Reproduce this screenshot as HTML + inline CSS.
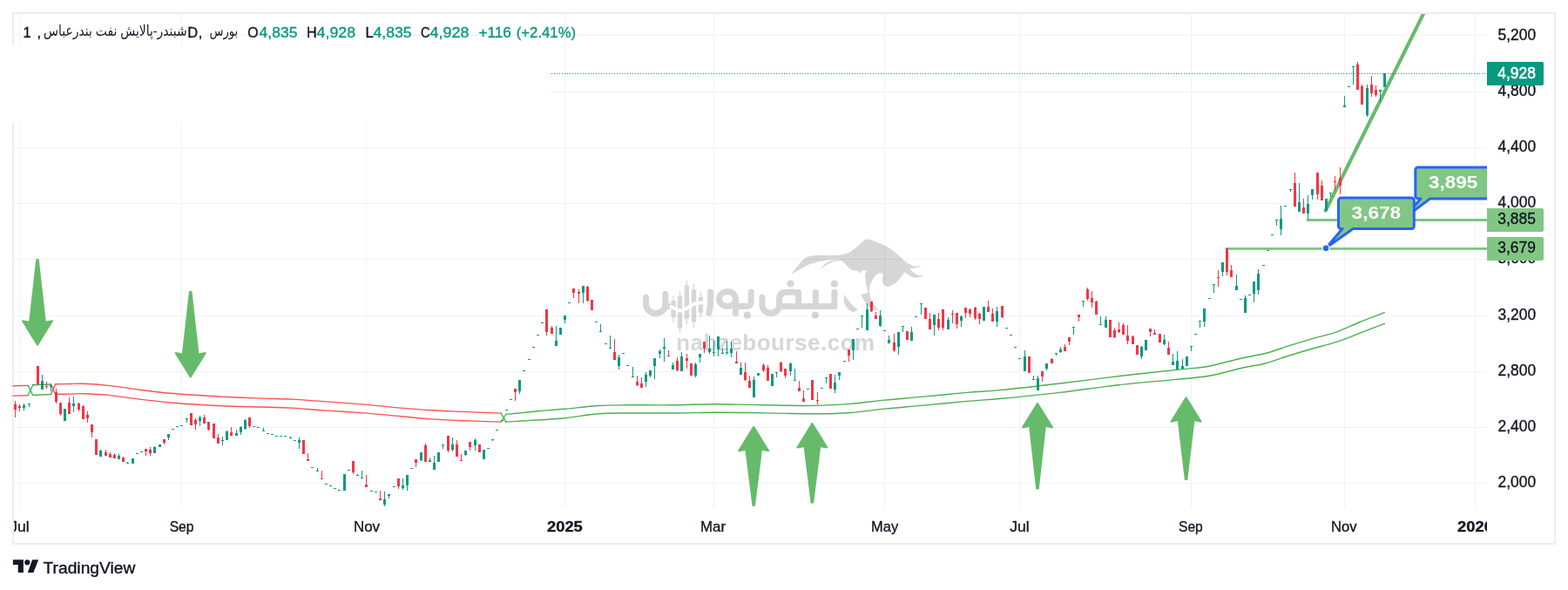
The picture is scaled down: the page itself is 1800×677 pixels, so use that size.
<!DOCTYPE html>
<html><head><meta charset="utf-8"><title>chart</title><style>html,body{margin:0;padding:0;background:#fff;overflow:hidden}</style></head><body>
<svg width="1800" height="677" viewBox="0 0 1800 677" style="display:block;will-change:transform">
<rect width="1800" height="677" fill="#fff"/>
<g fill="#F1F2F3" shape-rendering="crispEdges"><rect x="22" y="16" width="1" height="566"/><rect x="208" y="16" width="1" height="566"/><rect x="420" y="16" width="1" height="566"/><rect x="648" y="16" width="1" height="566"/><rect x="819" y="16" width="1" height="566"/><rect x="1015" y="16" width="1" height="566"/><rect x="1170" y="16" width="1" height="566"/><rect x="1367" y="16" width="1" height="566"/><rect x="1543" y="16" width="1" height="566"/><rect x="1693" y="16" width="1" height="566"/><rect x="16" y="40" width="1691" height="1"/><rect x="16" y="105" width="1691" height="1"/><rect x="16" y="169" width="1691" height="1"/><rect x="16" y="233" width="1691" height="1"/><rect x="16" y="297" width="1691" height="1"/><rect x="16" y="362" width="1691" height="1"/><rect x="16" y="426" width="1691" height="1"/><rect x="16" y="490" width="1691" height="1"/><rect x="16" y="554" width="1691" height="1"/></g>
<g fill="#EDEEF4" shape-rendering="crispEdges"><rect x="14" y="14" width="1772" height="2"/><rect x="14" y="623" width="1772" height="2"/><rect x="14" y="14" width="2" height="611"/><rect x="1784" y="14" width="2" height="611"/></g>
<rect x="0" y="52" width="631" height="88" fill="#fff"/>
<g opacity="0.155"><g fill="none" stroke="#000" stroke-width="7.0" stroke-linecap="round" stroke-linejoin="round"><path d="M741.5,341.2V349A11.2,10.5 0 0 0 763.9,349V337.4"/><path d="M763.9,351.5H768"/><path d="M815.6,335.2C815.9,345 815.4,353 813.8,359.3"/><path d="M862.2,335V347A4.6,4.6 0 0 1 857.6,351.6H844.5"/><path d="M844.5,345V359.4"/><path d="M874.9,341.3V350A9.8,9.4 0 0 0 894.5,350V344Q894.5,335.3 903,335.3H916.5V351.4"/><path d="M894.5,351.4H957.9V335.3"/><path d="M936.4,335.3V351.4"/><ellipse cx="835.05" cy="343" rx="9.45" ry="8.5"/></g><circle cx="857.9" cy="361.7" r="4.1"/><circle cx="935.9" cy="361.7" r="4.1"/><circle cx="907.4" cy="325.6" r="4.1"/><circle cx="957.9" cy="325.6" r="4.1"/><rect x="772.4" y="339" width="1.4" height="30.7"/><rect x="770.4" y="344.9" width="5.4" height="18.9"/><rect x="779.8" y="334" width="1.4" height="48.0"/><rect x="777.8" y="340" width="5.4" height="36.7"/><rect x="787.6" y="321.7" width="1.4" height="50.3"/><rect x="785.6" y="327.6" width="5.4" height="38.3"/><rect x="795.8" y="325.9" width="1.4" height="50.1"/><rect x="793.8" y="332.3" width="5.4" height="37.4"/><rect x="803.7" y="335.2" width="1.4" height="29.5"/><rect x="801.7" y="341.1" width="5.4" height="17.7"/><path d="M909.2,314.2C908.8,314.0 912.8,308.8 914.9,306.0C917.1,303.3 919.2,300.2 921.7,298.2C924.3,296.1 926.7,294.7 929.9,293.8C933.1,292.9 936.6,293.0 940.8,292.9C944.9,292.7 950.2,293.2 954.3,293.1C958.5,293.1 961.5,293.1 965.2,292.5C968.9,291.8 972.4,291.1 976.1,289.1C979.8,287.0 983.8,282.7 987.0,280.2C990.1,277.7 993.1,274.7 994.4,274.4C995.7,274.1 999.7,275.6 1003.3,276.8C1006.8,278.1 1011.3,279.4 1015.5,281.6C1019.6,283.8 1024.3,287.1 1027.7,289.7C1031.2,292.4 1033.1,294.9 1035.9,297.2C1038.6,299.5 1041.7,301.7 1044.0,303.1C1046.3,304.4 1047.1,304.8 1049.5,305.2C1051.8,305.6 1057.5,305.2 1057.6,305.4C1057.7,305.5 1052.9,307.1 1050.8,307.5C1048.7,308.0 1045.3,307.8 1045.1,308.2C1044.9,308.6 1046.7,310.9 1048.1,312.2C1049.5,313.4 1051.3,314.7 1053.5,315.4C1055.7,316.1 1061.1,316.0 1061.0,316.2C1060.9,316.5 1054.8,318.4 1052.2,318.5C1049.5,318.7 1047.6,317.9 1045.4,316.9C1043.1,315.9 1040.5,313.0 1038.9,312.8C1037.2,312.7 1037.3,314.6 1035.9,316.2C1034.4,317.9 1032.1,320.7 1030.4,322.3C1028.8,324.0 1028.2,324.6 1026.4,325.7C1024.5,326.9 1020.5,328.8 1019.6,328.9C1018.6,329.0 1015.9,328.2 1014.8,327.1C1013.7,326.0 1013.3,324.5 1013.0,322.3C1012.8,320.2 1014.2,316.0 1013.5,314.5C1012.7,313.0 1010.4,312.9 1008.7,313.5C1007.0,314.2 1004.8,316.3 1003.3,318.3C1001.8,320.2 1000.7,322.8 999.9,325.1C999.0,327.4 998.3,329.5 998.1,331.9C997.9,334.2 998.0,336.3 998.5,338.7C999.0,341.0 1000.1,343.1 1001.2,345.4C1002.4,347.8 1004.0,350.5 1005.3,352.2C1006.6,354.0 1009.1,355.4 1008.7,355.6C1008.3,355.9 1001.6,355.4 1000.5,355.0C999.5,354.5 996.8,351.7 995.1,349.5C993.4,347.3 991.5,343.9 990.4,342.0C989.2,340.2 988.0,339.1 988.3,338.7C988.6,338.2 992.4,337.2 993.8,336.6C995.1,336.0 996.2,336.3 996.5,335.3C996.7,334.2 995.6,332.2 995.1,330.5C994.6,328.8 994.0,326.7 993.8,325.1C993.5,323.4 993.9,322.6 993.8,321.0C993.6,319.4 992.7,317.2 992.8,315.6C992.9,313.9 994.5,312.4 994.4,311.5C994.4,310.5 992.8,310.0 992.4,310.0C992.0,310.0 989.9,310.5 989.0,311.1C988.1,311.6 987.9,313.4 987.0,313.2C986.0,313.1 984.7,310.8 983.6,310.4C982.4,310.0 981.4,311.1 980.2,310.8C978.9,310.5 977.5,309.8 976.1,308.8C974.7,307.7 973.4,306.1 972.0,304.7C970.6,303.3 969.1,301.6 967.9,300.6C966.8,299.6 966.6,299.2 965.2,299.0C963.8,298.8 961.6,299.1 959.8,299.5C957.9,299.9 956.4,300.4 954.3,301.3C952.3,302.2 949.6,303.4 947.6,304.7C945.5,306.0 942.1,308.9 942.1,308.8C942.1,308.6 945.5,304.3 947.6,302.6C949.6,301.0 952.0,299.9 954.3,299.0C956.7,298.1 959.3,297.6 961.1,297.2C963.0,296.8 965.3,296.5 965.2,296.5C965.1,296.5 962.1,296.9 959.8,297.2C957.5,297.5 954.9,297.7 951.6,298.2C948.4,298.6 944.5,299.1 940.8,299.9C937.1,300.8 933.4,301.7 929.9,303.1C926.4,304.4 923.9,306.2 920.4,308.1C916.9,310.0 909.7,314.4 909.2,314.2Z"/><path d="M970.9,335.6Q965.6,345.5 972.7,353.6T984.5,355.1Q977.1,349.9 972.7,343.3Q969.0,338.8 970.9,335.6Z"/><text x="776.2" y="402.1" font-family="'Liberation Sans', sans-serif" font-size="26" font-weight="bold" textLength="228" lengthAdjust="spacing">nabzebourse.com</text></g><path d="M768.8,351.6C773,352 776,356.6 781,356.3C788,356 792,350 798,348.5C803,347.2 808,347 811.8,348.6" fill="none" stroke="#fff" stroke-width="4"/>
<g fill="none" stroke-width="1.4" stroke-linejoin="round" stroke-linecap="round"><polyline points="15.0,442.8 32.1,442.4" stroke="#FF5252"/><polyline points="15.0,454.1 32.1,453.7" stroke="#FF5252"/><polyline points="32.1,442.4 37.8,453.5" stroke="#4CAF50"/><polyline points="32.1,453.7 37.8,441.8" stroke="#4CAF50"/><polyline points="37.8,441.8 58.5,441.0" stroke="#4CAF50"/><polyline points="37.8,453.5 58.5,452.5" stroke="#4CAF50"/><polyline points="58.5,441.0 63.6,452.3" stroke="#FF5252"/><polyline points="58.5,452.5 63.6,440.8" stroke="#FF5252"/><path d="M63.6,440.8C66.3,440.8 74.6,440.6 80.0,440.5C85.4,440.4 88.6,440.0 96.0,440.3C103.4,440.6 113.7,441.2 124.4,442.4C135.1,443.5 148.2,445.7 160.0,447.2C171.8,448.7 183.7,450.2 195.5,451.3C207.3,452.4 219.1,453.1 231.0,453.8C242.9,454.6 255.2,455.2 266.7,455.8C278.2,456.4 288.5,456.7 300.0,457.1C311.5,457.5 323.7,457.5 335.5,458.1C347.3,458.7 356.8,459.6 371.0,460.6C385.2,461.7 406.2,463.1 421.0,464.4C435.8,465.6 447.6,467.0 460.0,468.1C472.4,469.2 483.7,470.1 495.5,470.8C507.3,471.5 517.7,471.8 531.0,472.4C544.3,472.9 567.8,473.8 575.2,474.1" stroke="#FF5252"/><path d="M63.6,452.3C66.3,452.3 74.6,452.2 80.0,452.1C85.4,452.0 88.6,451.5 96.0,451.7C103.4,451.9 113.7,452.3 124.4,453.4C135.1,454.5 148.2,456.7 160.0,458.1C171.8,459.5 183.7,460.9 195.5,462.0C207.3,463.1 219.1,463.8 231.0,464.5C242.9,465.2 255.2,465.8 266.7,466.2C278.2,466.6 288.5,466.7 300.0,467.0C311.5,467.3 323.7,467.5 335.5,468.1C347.3,468.8 356.8,469.9 371.0,470.9C385.2,471.9 406.2,473.0 421.0,474.1C435.8,475.2 447.6,476.6 460.0,477.7C472.4,478.8 483.7,480.1 495.5,480.9C507.3,481.7 517.7,482.2 531.0,482.7C544.3,483.2 567.8,483.9 575.2,484.1" stroke="#FF5252"/><polyline points="575.2,474.1 580.9,484.1" stroke="#4CAF50"/><polyline points="575.2,484.1 580.9,475.4" stroke="#4CAF50"/><path d="M580.9,475.4C584.1,475.1 593.5,474.2 600.0,473.6C606.5,473.0 611.9,472.2 620.0,471.5C628.1,470.8 637.4,470.3 648.5,469.3C659.6,468.3 674.9,466.2 686.9,465.5C698.9,464.8 706.4,464.9 720.3,464.8C734.2,464.7 753.7,465.0 770.4,464.8C787.1,464.6 805.6,463.9 820.5,463.8C835.4,463.7 846.8,464.2 860.0,464.4C873.2,464.6 886.9,465.0 900.0,465.2C913.1,465.4 925.7,465.7 938.5,465.4C951.3,465.1 964.0,464.4 976.9,463.4C989.8,462.3 1001.9,460.5 1015.8,459.1C1029.7,457.7 1044.5,456.6 1060.3,455.1C1076.1,453.7 1095.5,451.7 1110.4,450.4C1125.4,449.1 1132.3,449.1 1150.0,447.4C1167.7,445.7 1194.5,442.6 1216.8,440.0C1239.1,437.4 1261.3,434.3 1283.6,431.7C1305.8,429.1 1333.6,426.2 1350.3,424.4C1367.0,422.6 1375.4,422.2 1383.7,421.0C1392.0,419.8 1392.8,419.0 1400.0,417.3C1407.2,415.6 1417.8,412.7 1426.7,410.7C1435.6,408.7 1444.4,407.6 1453.3,405.3C1462.2,403.0 1471.1,399.5 1480.0,396.7C1488.9,393.9 1497.8,391.3 1506.7,388.7C1515.6,386.1 1524.4,384.4 1533.3,381.3C1542.2,378.2 1550.7,373.8 1560.0,370.0C1569.3,366.2 1584.4,360.6 1589.3,358.7" stroke="#4CAF50"/><path d="M580.9,484.1C584.1,483.9 593.5,483.4 600.0,483.0C606.5,482.6 611.9,482.3 620.0,481.8C628.1,481.3 637.4,481.0 648.5,479.8C659.6,478.6 674.9,475.8 686.9,474.8C698.9,473.8 706.4,474.1 720.3,474.0C734.2,473.9 753.7,474.1 770.4,474.0C787.1,473.9 805.6,473.3 820.5,473.2C835.4,473.1 846.8,473.3 860.0,473.5C873.2,473.7 886.9,474.2 900.0,474.4C913.1,474.6 925.7,474.9 938.5,474.8C951.3,474.7 964.0,474.4 976.9,473.5C989.8,472.6 1001.9,470.5 1015.8,469.1C1029.7,467.7 1044.5,466.6 1060.3,465.1C1076.1,463.7 1095.5,461.7 1110.4,460.4C1125.4,459.1 1132.3,459.0 1150.0,457.3C1167.7,455.6 1194.5,453.0 1216.8,450.4C1239.1,447.8 1261.3,444.2 1283.6,441.7C1305.8,439.2 1333.6,437.0 1350.3,435.4C1367.0,433.8 1375.4,433.1 1383.7,432.0C1392.0,430.9 1392.8,430.4 1400.0,428.7C1407.2,427.0 1417.8,424.0 1426.7,422.0C1435.6,420.0 1444.4,419.0 1453.3,416.7C1462.2,414.4 1471.1,410.8 1480.0,408.0C1488.9,405.2 1497.8,402.6 1506.7,400.0C1515.6,397.4 1524.4,395.6 1533.3,392.7C1542.2,389.8 1550.7,386.3 1560.0,382.7C1569.3,379.1 1584.4,373.2 1589.3,371.3" stroke="#4CAF50"/></g>
<clipPath id="pclip"><rect x="16" y="16" width="1691" height="566"/></clipPath><g clip-path="url(#pclip)"><g fill="#66BB6A" stroke="#66BB6A" stroke-width="2" stroke-linejoin="round"><polygon points="43.0,395.6 60.0,368.2 51.9,369.8 43.8,298.0 42.2,298.0 34.1,369.8 26.0,368.2"/><polygon points="218.7,432.5 235.7,405.1 227.6,406.7 219.5,334.9 217.9,334.9 209.8,406.7 201.7,405.1"/><polygon points="865.2,489.9 882.2,517.3 874.1,515.7 866.0,579.9 864.4,579.9 856.3,515.7 848.2,517.3"/><polygon points="932.4,486.1 949.4,513.5 941.3,511.9 933.2,576.6 931.6,576.6 923.5,511.9 915.4,513.5"/><polygon points="1191.0,463.0 1208.0,490.4 1199.9,488.8 1191.8,560.6 1190.2,560.6 1182.1,488.8 1174.0,490.4"/><polygon points="1361.6,456.3 1378.6,483.7 1370.5,482.1 1362.4,550.0 1360.8,550.0 1352.7,482.1 1344.6,483.7"/></g><g stroke="#7CC580" stroke-width="2.8"><line x1="1406.7" y1="285.4" x2="1707" y2="285.4"/><line x1="1499.9" y1="252.5" x2="1707" y2="252.5"/></g><line x1="1521.7" y1="241.7" x2="1636.9" y2="10" stroke="#66BB6A" stroke-width="4.1" stroke-linecap="round"/></g>
<g shape-rendering="crispEdges"><g fill="#089981"><rect x="27" y="463" width="1" height="8"/><rect x="26" y="465" width="3" height="3"/><rect x="33" y="463" width="1" height="4"/><rect x="32" y="463" width="3" height="1"/><rect x="37" y="441" width="3" height="1"/><rect x="48" y="430" width="1" height="17"/><rect x="47" y="437" width="3" height="10"/><rect x="58" y="441" width="1" height="8"/><rect x="57" y="442" width="3" height="2"/><rect x="73" y="469" width="3" height="14"/><rect x="84" y="455" width="1" height="18"/><rect x="83" y="463" width="3" height="3"/><rect x="115" y="516" width="1" height="8"/><rect x="114" y="517" width="3" height="7"/><rect x="136" y="521" width="1" height="6"/><rect x="135" y="523" width="3" height="4"/><rect x="146" y="530" width="1" height="2"/><rect x="145" y="531" width="3" height="1"/><rect x="151" y="526" width="3" height="6"/><rect x="156" y="520" width="3" height="1"/><rect x="161" y="518" width="3" height="1"/><rect x="177" y="512" width="1" height="8"/><rect x="176" y="513" width="3" height="7"/><rect x="182" y="510" width="3" height="3"/><rect x="193" y="498" width="1" height="7"/><rect x="192" y="498" width="3" height="4"/><rect x="197" y="492" width="3" height="1"/><rect x="202" y="489" width="3" height="1"/><rect x="207" y="488" width="3" height="1"/><rect x="214" y="480" width="1" height="5"/><rect x="213" y="480" width="3" height="1"/><rect x="229" y="477" width="1" height="12"/><rect x="228" y="479" width="3" height="4"/><rect x="255" y="501" width="1" height="10"/><rect x="254" y="505" width="3" height="1"/><rect x="260" y="494" width="1" height="11"/><rect x="259" y="495" width="3" height="10"/><rect x="271" y="493" width="1" height="7"/><rect x="270" y="497" width="3" height="3"/><rect x="276" y="489" width="1" height="10"/><rect x="275" y="490" width="3" height="6"/><rect x="281" y="481" width="1" height="12"/><rect x="280" y="482" width="3" height="10"/><rect x="290" y="489" width="3" height="1"/><rect x="295" y="490" width="3" height="1"/><rect x="302" y="491" width="1" height="4"/><rect x="301" y="494" width="3" height="1"/><rect x="306" y="497" width="3" height="1"/><rect x="311" y="498" width="3" height="1"/><rect x="316" y="500" width="3" height="1"/><rect x="321" y="500" width="3" height="1"/><rect x="326" y="500" width="3" height="1"/><rect x="333" y="501" width="1" height="2"/><rect x="332" y="502" width="3" height="1"/><rect x="337" y="505" width="3" height="1"/><rect x="343" y="502" width="1" height="13"/><rect x="342" y="505" width="3" height="3"/><rect x="357" y="536" width="3" height="1"/><rect x="364" y="537" width="1" height="4"/><rect x="363" y="540" width="3" height="1"/><rect x="373" y="555" width="3" height="1"/><rect x="378" y="557" width="3" height="1"/><rect x="383" y="560" width="3" height="1"/><rect x="388" y="562" width="3" height="1"/><rect x="394" y="544" width="3" height="19"/><rect x="399" y="539" width="3" height="1"/><rect x="410" y="544" width="1" height="2"/><rect x="409" y="545" width="3" height="1"/><rect x="415" y="540" width="1" height="9"/><rect x="414" y="548" width="3" height="1"/><rect x="425" y="563" width="3" height="1"/><rect x="430" y="564" width="3" height="1"/><rect x="441" y="564" width="1" height="17"/><rect x="440" y="573" width="3" height="6"/><rect x="446" y="567" width="1" height="5"/><rect x="445" y="567" width="3" height="2"/><rect x="451" y="558" width="3" height="1"/><rect x="462" y="549" width="1" height="13"/><rect x="461" y="557" width="3" height="3"/><rect x="467" y="545" width="1" height="18"/><rect x="466" y="545" width="3" height="12"/><rect x="471" y="537" width="3" height="1"/><rect x="483" y="519" width="1" height="10"/><rect x="482" y="519" width="3" height="9"/><rect x="493" y="525" width="1" height="5"/><rect x="492" y="528" width="3" height="2"/><rect x="498" y="523" width="1" height="16"/><rect x="497" y="531" width="3" height="8"/><rect x="502" y="519" width="3" height="11"/><rect x="508" y="510" width="1" height="5"/><rect x="507" y="510" width="3" height="1"/><rect x="519" y="502" width="1" height="16"/><rect x="518" y="510" width="3" height="6"/><rect x="534" y="517" width="1" height="6"/><rect x="533" y="517" width="3" height="5"/><rect x="545" y="503" width="1" height="14"/><rect x="544" y="505" width="3" height="6"/><rect x="554" y="516" width="3" height="11"/><rect x="559" y="514" width="3" height="1"/><rect x="565" y="504" width="1" height="2"/><rect x="564" y="504" width="3" height="1"/><rect x="569" y="493" width="3" height="1"/><rect x="575" y="482" width="3" height="1"/><rect x="580" y="470" width="3" height="1"/><rect x="585" y="458" width="3" height="1"/><rect x="596" y="436" width="1" height="16"/><rect x="595" y="436" width="3" height="13"/><rect x="600" y="425" width="3" height="1"/><rect x="606" y="412" width="3" height="1"/><rect x="611" y="398" width="3" height="1"/><rect x="616" y="384" width="3" height="1"/><rect x="621" y="370" width="3" height="1"/><rect x="638" y="374" width="1" height="23"/><rect x="637" y="391" width="3" height="6"/><rect x="642" y="376" width="3" height="8"/><rect x="648" y="362" width="1" height="9"/><rect x="647" y="362" width="3" height="5"/><rect x="652" y="347" width="3" height="1"/><rect x="669" y="328" width="1" height="20"/><rect x="668" y="328" width="3" height="8"/><rect x="683" y="369" width="3" height="1"/><rect x="689" y="372" width="1" height="9"/><rect x="688" y="380" width="3" height="1"/><rect x="694" y="394" width="3" height="1"/><rect x="700" y="385" width="1" height="15"/><rect x="699" y="399" width="3" height="1"/><rect x="710" y="407" width="1" height="17"/><rect x="709" y="410" width="3" height="10"/><rect x="714" y="405" width="3" height="1"/><rect x="719" y="419" width="3" height="1"/><rect x="726" y="421" width="1" height="12"/><rect x="725" y="432" width="3" height="1"/><rect x="741" y="427" width="1" height="17"/><rect x="740" y="430" width="3" height="8"/><rect x="746" y="425" width="1" height="8"/><rect x="745" y="425" width="3" height="6"/><rect x="751" y="411" width="1" height="24"/><rect x="750" y="411" width="3" height="9"/><rect x="757" y="401" width="1" height="10"/><rect x="756" y="403" width="3" height="3"/><rect x="762" y="388" width="1" height="27"/><rect x="761" y="398" width="3" height="2"/><rect x="772" y="416" width="1" height="8"/><rect x="771" y="419" width="3" height="5"/><rect x="782" y="404" width="1" height="22"/><rect x="781" y="409" width="3" height="17"/><rect x="798" y="416" width="1" height="17"/><rect x="797" y="418" width="3" height="13"/><rect x="803" y="406" width="1" height="10"/><rect x="802" y="406" width="3" height="4"/><rect x="814" y="385" width="1" height="21"/><rect x="813" y="400" width="3" height="4"/><rect x="819" y="391" width="1" height="18"/><rect x="818" y="404" width="3" height="1"/><rect x="824" y="386" width="1" height="23"/><rect x="823" y="386" width="3" height="15"/><rect x="829" y="400" width="1" height="6"/><rect x="828" y="405" width="3" height="1"/><rect x="834" y="391" width="1" height="16"/><rect x="833" y="404" width="3" height="1"/><rect x="839" y="392" width="1" height="18"/><rect x="838" y="400" width="3" height="5"/><rect x="850" y="416" width="1" height="14"/><rect x="849" y="422" width="3" height="8"/><rect x="865" y="432" width="1" height="24"/><rect x="864" y="436" width="3" height="20"/><rect x="869" y="428" width="3" height="3"/><rect x="885" y="429" width="3" height="14"/><rect x="891" y="427" width="1" height="6"/><rect x="890" y="427" width="3" height="1"/><rect x="907" y="416" width="1" height="15"/><rect x="906" y="417" width="3" height="9"/><rect x="912" y="423" width="1" height="14"/><rect x="911" y="436" width="3" height="1"/><rect x="926" y="446" width="3" height="1"/><rect x="942" y="445" width="3" height="1"/><rect x="948" y="433" width="1" height="7"/><rect x="947" y="433" width="3" height="1"/><rect x="958" y="430" width="1" height="21"/><rect x="957" y="439" width="3" height="8"/><rect x="963" y="427" width="1" height="9"/><rect x="962" y="427" width="3" height="4"/><rect x="968" y="414" width="3" height="1"/><rect x="979" y="389" width="1" height="24"/><rect x="978" y="389" width="3" height="13"/><rect x="983" y="377" width="3" height="1"/><rect x="989" y="362" width="1" height="14"/><rect x="988" y="362" width="3" height="1"/><rect x="995" y="348" width="1" height="31"/><rect x="994" y="355" width="3" height="24"/><rect x="1010" y="356" width="1" height="19"/><rect x="1009" y="362" width="3" height="12"/><rect x="1014" y="379" width="3" height="1"/><rect x="1020" y="385" width="1" height="9"/><rect x="1019" y="390" width="3" height="4"/><rect x="1031" y="381" width="1" height="26"/><rect x="1030" y="381" width="3" height="17"/><rect x="1036" y="374" width="1" height="7"/><rect x="1035" y="374" width="3" height="1"/><rect x="1046" y="375" width="1" height="16"/><rect x="1045" y="381" width="3" height="10"/><rect x="1050" y="363" width="3" height="1"/><rect x="1057" y="348" width="1" height="13"/><rect x="1056" y="348" width="3" height="1"/><rect x="1072" y="361" width="1" height="24"/><rect x="1071" y="361" width="3" height="12"/><rect x="1088" y="364" width="1" height="14"/><rect x="1087" y="367" width="3" height="11"/><rect x="1103" y="362" width="1" height="13"/><rect x="1102" y="363" width="3" height="5"/><rect x="1128" y="352" width="3" height="16"/><rect x="1144" y="352" width="1" height="23"/><rect x="1143" y="357" width="3" height="12"/><rect x="1154" y="376" width="3" height="1"/><rect x="1159" y="384" width="3" height="1"/><rect x="1164" y="398" width="3" height="1"/><rect x="1169" y="411" width="3" height="1"/><rect x="1176" y="402" width="1" height="24"/><rect x="1175" y="409" width="3" height="17"/><rect x="1191" y="431" width="1" height="17"/><rect x="1190" y="434" width="3" height="14"/><rect x="1201" y="417" width="1" height="8"/><rect x="1200" y="417" width="3" height="6"/><rect x="1212" y="405" width="1" height="3"/><rect x="1211" y="405" width="3" height="1"/><rect x="1217" y="398" width="1" height="7"/><rect x="1216" y="401" width="3" height="3"/><rect x="1232" y="375" width="1" height="9"/><rect x="1231" y="375" width="3" height="1"/><rect x="1243" y="345" width="1" height="7"/><rect x="1242" y="345" width="3" height="1"/><rect x="1263" y="363" width="1" height="10"/><rect x="1262" y="372" width="3" height="1"/><rect x="1269" y="363" width="1" height="13"/><rect x="1268" y="367" width="3" height="9"/><rect x="1310" y="397" width="1" height="15"/><rect x="1309" y="398" width="3" height="11"/><rect x="1314" y="390" width="3" height="12"/><rect x="1336" y="384" width="1" height="12"/><rect x="1335" y="390" width="3" height="5"/><rect x="1346" y="406" width="1" height="13"/><rect x="1345" y="415" width="3" height="4"/><rect x="1351" y="403" width="1" height="21"/><rect x="1350" y="414" width="3" height="10"/><rect x="1357" y="412" width="1" height="12"/><rect x="1356" y="420" width="3" height="3"/><rect x="1361" y="409" width="3" height="11"/><rect x="1367" y="397" width="1" height="6"/><rect x="1366" y="397" width="3" height="1"/><rect x="1371" y="383" width="3" height="1"/><rect x="1377" y="368" width="1" height="8"/><rect x="1376" y="368" width="3" height="1"/><rect x="1382" y="354" width="1" height="21"/><rect x="1381" y="354" width="3" height="15"/><rect x="1387" y="342" width="3" height="1"/><rect x="1393" y="326" width="1" height="10"/><rect x="1392" y="326" width="3" height="1"/><rect x="1403" y="301" width="1" height="16"/><rect x="1402" y="301" width="3" height="11"/><rect x="1419" y="315" width="1" height="18"/><rect x="1418" y="328" width="3" height="5"/><rect x="1423" y="343" width="3" height="1"/><rect x="1429" y="339" width="1" height="20"/><rect x="1428" y="342" width="3" height="17"/><rect x="1433" y="338" width="3" height="1"/><rect x="1439" y="323" width="1" height="24"/><rect x="1438" y="323" width="3" height="14"/><rect x="1444" y="309" width="1" height="29"/><rect x="1443" y="314" width="3" height="19"/><rect x="1449" y="304" width="3" height="1"/><rect x="1454" y="287" width="3" height="1"/><rect x="1459" y="269" width="3" height="1"/><rect x="1465" y="252" width="1" height="7"/><rect x="1464" y="252" width="3" height="1"/><rect x="1470" y="236" width="1" height="34"/><rect x="1469" y="251" width="3" height="12"/><rect x="1474" y="236" width="3" height="1"/><rect x="1481" y="217" width="1" height="3"/><rect x="1480" y="217" width="3" height="1"/><rect x="1491" y="210" width="1" height="33"/><rect x="1490" y="232" width="3" height="11"/><rect x="1501" y="224" width="1" height="28"/><rect x="1500" y="234" width="3" height="11"/><rect x="1506" y="217" width="1" height="12"/><rect x="1505" y="217" width="3" height="7"/><rect x="1521" y="228" width="3" height="14"/><rect x="1527" y="221" width="1" height="5"/><rect x="1526" y="221" width="3" height="1"/><rect x="1543" y="110" width="1" height="13"/><rect x="1542" y="121" width="3" height="2"/><rect x="1547" y="99" width="3" height="1"/><rect x="1553" y="76" width="1" height="21"/><rect x="1552" y="76" width="3" height="1"/><rect x="1569" y="97" width="1" height="37"/><rect x="1568" y="101" width="3" height="31"/><rect x="1584" y="103" width="1" height="14"/><rect x="1583" y="103" width="3" height="2"/><rect x="1588" y="84" width="3" height="16"/></g><g fill="#F23645"><rect x="17" y="460" width="1" height="19"/><rect x="16" y="464" width="3" height="6"/><rect x="22" y="464" width="1" height="8"/><rect x="21" y="466" width="3" height="2"/><rect x="43" y="420" width="1" height="22"/><rect x="42" y="420" width="3" height="21"/><rect x="53" y="438" width="1" height="8"/><rect x="52" y="443" width="3" height="1"/><rect x="64" y="446" width="1" height="17"/><rect x="63" y="450" width="3" height="11"/><rect x="69" y="462" width="1" height="15"/><rect x="68" y="462" width="3" height="13"/><rect x="79" y="456" width="1" height="19"/><rect x="78" y="462" width="3" height="13"/><rect x="90" y="462" width="1" height="10"/><rect x="89" y="463" width="3" height="7"/><rect x="95" y="465" width="1" height="16"/><rect x="94" y="466" width="3" height="15"/><rect x="100" y="472" width="1" height="13"/><rect x="99" y="476" width="3" height="4"/><rect x="105" y="487" width="1" height="15"/><rect x="104" y="487" width="3" height="9"/><rect x="109" y="504" width="3" height="18"/><rect x="121" y="516" width="1" height="7"/><rect x="120" y="519" width="3" height="4"/><rect x="126" y="519" width="1" height="6"/><rect x="125" y="521" width="3" height="4"/><rect x="131" y="520" width="1" height="6"/><rect x="130" y="522" width="3" height="4"/><rect x="141" y="524" width="1" height="6"/><rect x="140" y="525" width="3" height="5"/><rect x="167" y="515" width="1" height="8"/><rect x="166" y="515" width="3" height="3"/><rect x="172" y="513" width="1" height="10"/><rect x="171" y="516" width="3" height="4"/><rect x="188" y="504" width="1" height="6"/><rect x="187" y="504" width="3" height="4"/><rect x="218" y="474" width="3" height="14"/><rect x="224" y="480" width="1" height="13"/><rect x="223" y="482" width="3" height="5"/><rect x="234" y="476" width="1" height="10"/><rect x="233" y="479" width="3" height="7"/><rect x="239" y="484" width="1" height="10"/><rect x="238" y="484" width="3" height="9"/><rect x="244" y="486" width="3" height="17"/><rect x="250" y="498" width="1" height="11"/><rect x="249" y="502" width="3" height="7"/><rect x="265" y="490" width="1" height="10"/><rect x="264" y="496" width="3" height="4"/><rect x="286" y="479" width="1" height="12"/><rect x="285" y="479" width="3" height="10"/><rect x="347" y="505" width="3" height="16"/><rect x="353" y="520" width="1" height="9"/><rect x="352" y="527" width="3" height="2"/><rect x="369" y="540" width="1" height="10"/><rect x="368" y="549" width="3" height="1"/><rect x="405" y="529" width="1" height="15"/><rect x="404" y="529" width="3" height="13"/><rect x="420" y="545" width="1" height="14"/><rect x="419" y="556" width="3" height="3"/><rect x="436" y="563" width="1" height="11"/><rect x="435" y="572" width="3" height="2"/><rect x="457" y="549" width="1" height="12"/><rect x="456" y="549" width="3" height="9"/><rect x="477" y="527" width="1" height="9"/><rect x="476" y="527" width="3" height="4"/><rect x="488" y="509" width="1" height="21"/><rect x="487" y="511" width="3" height="19"/><rect x="514" y="500" width="1" height="19"/><rect x="513" y="500" width="3" height="17"/><rect x="524" y="505" width="1" height="19"/><rect x="523" y="510" width="3" height="14"/><rect x="529" y="521" width="1" height="8"/><rect x="528" y="528" width="3" height="1"/><rect x="539" y="507" width="1" height="10"/><rect x="538" y="507" width="3" height="6"/><rect x="549" y="510" width="3" height="9"/><rect x="591" y="446" width="1" height="14"/><rect x="590" y="446" width="3" height="4"/><rect x="627" y="355" width="1" height="30"/><rect x="626" y="355" width="3" height="26"/><rect x="633" y="374" width="1" height="9"/><rect x="632" y="376" width="3" height="7"/><rect x="658" y="331" width="1" height="11"/><rect x="657" y="331" width="3" height="5"/><rect x="664" y="332" width="1" height="16"/><rect x="663" y="335" width="3" height="2"/><rect x="674" y="328" width="1" height="18"/><rect x="673" y="329" width="3" height="16"/><rect x="678" y="344" width="3" height="12"/><rect x="705" y="389" width="1" height="24"/><rect x="704" y="404" width="3" height="9"/><rect x="731" y="431" width="1" height="12"/><rect x="730" y="438" width="3" height="4"/><rect x="736" y="433" width="1" height="12"/><rect x="735" y="440" width="3" height="5"/><rect x="767" y="402" width="1" height="7"/><rect x="766" y="408" width="3" height="1"/><rect x="777" y="410" width="1" height="16"/><rect x="776" y="414" width="3" height="11"/><rect x="788" y="406" width="1" height="17"/><rect x="787" y="411" width="3" height="3"/><rect x="792" y="417" width="3" height="14"/><rect x="808" y="392" width="1" height="13"/><rect x="807" y="392" width="3" height="8"/><rect x="845" y="403" width="1" height="14"/><rect x="844" y="415" width="3" height="2"/><rect x="855" y="416" width="1" height="21"/><rect x="854" y="427" width="3" height="9"/><rect x="860" y="431" width="1" height="14"/><rect x="859" y="437" width="3" height="8"/><rect x="876" y="417" width="1" height="10"/><rect x="875" y="419" width="3" height="6"/><rect x="881" y="419" width="1" height="18"/><rect x="880" y="422" width="3" height="15"/><rect x="896" y="415" width="1" height="12"/><rect x="895" y="416" width="3" height="10"/><rect x="901" y="423" width="1" height="11"/><rect x="900" y="423" width="3" height="8"/><rect x="917" y="437" width="1" height="12"/><rect x="916" y="445" width="3" height="4"/><rect x="922" y="448" width="1" height="13"/><rect x="921" y="457" width="3" height="4"/><rect x="931" y="436" width="3" height="23"/><rect x="938" y="450" width="1" height="14"/><rect x="937" y="459" width="3" height="1"/><rect x="952" y="429" width="3" height="17"/><rect x="974" y="401" width="1" height="14"/><rect x="973" y="401" width="3" height="7"/><rect x="1000" y="346" width="1" height="12"/><rect x="999" y="346" width="3" height="11"/><rect x="1005" y="358" width="1" height="8"/><rect x="1004" y="362" width="3" height="4"/><rect x="1026" y="383" width="1" height="21"/><rect x="1025" y="393" width="3" height="9"/><rect x="1040" y="380" width="3" height="10"/><rect x="1061" y="353" width="3" height="13"/><rect x="1067" y="359" width="1" height="19"/><rect x="1066" y="366" width="3" height="12"/><rect x="1077" y="359" width="1" height="20"/><rect x="1076" y="366" width="3" height="10"/><rect x="1082" y="355" width="1" height="24"/><rect x="1081" y="355" width="3" height="21"/><rect x="1093" y="356" width="1" height="15"/><rect x="1092" y="360" width="3" height="1"/><rect x="1098" y="359" width="1" height="18"/><rect x="1097" y="359" width="3" height="13"/><rect x="1108" y="353" width="1" height="12"/><rect x="1107" y="353" width="3" height="6"/><rect x="1113" y="354" width="1" height="10"/><rect x="1112" y="355" width="3" height="5"/><rect x="1119" y="352" width="1" height="15"/><rect x="1118" y="353" width="3" height="12"/><rect x="1124" y="359" width="1" height="13"/><rect x="1123" y="360" width="3" height="6"/><rect x="1134" y="345" width="1" height="13"/><rect x="1133" y="352" width="3" height="6"/><rect x="1139" y="354" width="1" height="15"/><rect x="1138" y="360" width="3" height="9"/><rect x="1150" y="351" width="1" height="14"/><rect x="1149" y="351" width="3" height="13"/><rect x="1180" y="409" width="3" height="19"/><rect x="1186" y="431" width="1" height="5"/><rect x="1185" y="435" width="3" height="1"/><rect x="1196" y="426" width="1" height="12"/><rect x="1195" y="426" width="3" height="6"/><rect x="1207" y="411" width="1" height="6"/><rect x="1206" y="412" width="3" height="5"/><rect x="1222" y="395" width="1" height="8"/><rect x="1221" y="398" width="3" height="5"/><rect x="1227" y="387" width="1" height="9"/><rect x="1226" y="387" width="3" height="5"/><rect x="1238" y="361" width="1" height="8"/><rect x="1237" y="361" width="3" height="3"/><rect x="1248" y="330" width="1" height="15"/><rect x="1247" y="332" width="3" height="11"/><rect x="1253" y="334" width="1" height="19"/><rect x="1252" y="342" width="3" height="5"/><rect x="1258" y="345" width="1" height="16"/><rect x="1257" y="346" width="3" height="15"/><rect x="1273" y="367" width="3" height="20"/><rect x="1279" y="376" width="1" height="12"/><rect x="1278" y="379" width="3" height="8"/><rect x="1284" y="370" width="1" height="12"/><rect x="1283" y="378" width="3" height="3"/><rect x="1289" y="371" width="1" height="13"/><rect x="1288" y="373" width="3" height="11"/><rect x="1294" y="373" width="1" height="22"/><rect x="1293" y="385" width="3" height="6"/><rect x="1300" y="385" width="1" height="10"/><rect x="1299" y="386" width="3" height="9"/><rect x="1304" y="396" width="3" height="11"/><rect x="1320" y="377" width="1" height="9"/><rect x="1319" y="377" width="3" height="4"/><rect x="1325" y="378" width="1" height="6"/><rect x="1324" y="382" width="3" height="2"/><rect x="1330" y="383" width="3" height="10"/><rect x="1341" y="392" width="1" height="15"/><rect x="1340" y="399" width="3" height="8"/><rect x="1398" y="310" width="1" height="19"/><rect x="1397" y="318" width="3" height="1"/><rect x="1408" y="285" width="1" height="31"/><rect x="1407" y="285" width="3" height="27"/><rect x="1413" y="304" width="1" height="14"/><rect x="1412" y="310" width="3" height="8"/><rect x="1486" y="198" width="1" height="39"/><rect x="1485" y="210" width="3" height="27"/><rect x="1496" y="228" width="1" height="17"/><rect x="1495" y="238" width="3" height="7"/><rect x="1512" y="198" width="1" height="31"/><rect x="1511" y="198" width="3" height="25"/><rect x="1517" y="207" width="1" height="23"/><rect x="1516" y="213" width="3" height="17"/><rect x="1532" y="202" width="1" height="17"/><rect x="1531" y="208" width="3" height="1"/><rect x="1538" y="192" width="1" height="31"/><rect x="1537" y="204" width="3" height="9"/><rect x="1558" y="71" width="1" height="32"/><rect x="1557" y="74" width="3" height="29"/><rect x="1563" y="97" width="1" height="23"/><rect x="1562" y="99" width="3" height="21"/><rect x="1574" y="87" width="1" height="24"/><rect x="1573" y="97" width="3" height="10"/><rect x="1579" y="98" width="1" height="13"/><rect x="1578" y="103" width="3" height="6"/></g></g>
<line x1="633" y1="84.5" x2="1707" y2="84.5" stroke="#089981" stroke-width="1" stroke-dasharray="1 2" shape-rendering="crispEdges"/>
<g clip-path="url(#pclip)"><path d="M1627.8,191.9H1708.6A3,3 0 0 1 1711.6,194.9V224.9A3,3 0 0 1 1708.6,227.9H1641.8L1609.0,252.5L1631.0,227.9H1627.8A3,3 0 0 1 1624.8,224.9V194.9A3,3 0 0 1 1627.8,191.9Z" fill="#81C784" stroke="#2962FF" stroke-width="3" stroke-linejoin="round"/><text x="1640.0" y="215.7" font-family="'Liberation Sans', sans-serif" font-size="21" font-weight="bold" fill="#fff" textLength="56.2" lengthAdjust="spacingAndGlyphs">3,895</text><path d="M1539.5,227.1H1620.3A3,3 0 0 1 1623.3,230.1V259.5A3,3 0 0 1 1620.3,262.5H1553.2L1522.8,284.0L1541.0,262.5H1539.5A3,3 0 0 1 1536.5,259.5V230.1A3,3 0 0 1 1539.5,227.1Z" fill="#81C784" stroke="#2962FF" stroke-width="3" stroke-linejoin="round"/><text x="1551.6" y="251.1" font-family="'Liberation Sans', sans-serif" font-size="21" font-weight="bold" fill="#fff" textLength="56.6" lengthAdjust="spacingAndGlyphs">3,678</text><circle cx="1522.1" cy="284.8" r="4.6" fill="#fff"/><circle cx="1522.1" cy="284.8" r="3.3" fill="#2962FF"/></g>
<g font-family="'Liberation Sans', sans-serif" font-size="17.5" fill="#131722" stroke="#131722" stroke-width="0.35"><text x="1719.5" y="46" textLength="43.6" lengthAdjust="spacingAndGlyphs">5,200</text><text x="1719.5" y="110" textLength="43.6" lengthAdjust="spacingAndGlyphs">4,800</text><text x="1719.5" y="174" textLength="43.6" lengthAdjust="spacingAndGlyphs">4,400</text><text x="1719.5" y="238" textLength="43.6" lengthAdjust="spacingAndGlyphs">4,000</text><text x="1719.5" y="302" textLength="43.6" lengthAdjust="spacingAndGlyphs">3,600</text><text x="1719.5" y="367" textLength="43.6" lengthAdjust="spacingAndGlyphs">3,200</text><text x="1719.5" y="431" textLength="43.6" lengthAdjust="spacingAndGlyphs">2,800</text><text x="1719.5" y="495" textLength="43.6" lengthAdjust="spacingAndGlyphs">2,400</text><text x="1719.5" y="559" textLength="43.6" lengthAdjust="spacingAndGlyphs">2,000</text></g>
<path d="M1707,239H1770A2,2 0 0 1 1772,241V264A2,2 0 0 1 1770,266H1707Z" fill="#81C784"/><text x="1719.3" y="257.1" font-family="'Liberation Sans', sans-serif" font-size="17.5" fill="#131722" stroke="#131722" stroke-width="0.35" textLength="43.6" lengthAdjust="spacingAndGlyphs">3,885</text><path d="M1707,272H1770A2,2 0 0 1 1772,274V297A2,2 0 0 1 1770,299H1707Z" fill="#81C784"/><text x="1719.3" y="290.2" font-family="'Liberation Sans', sans-serif" font-size="17.5" fill="#131722" stroke="#131722" stroke-width="0.35" textLength="43.6" lengthAdjust="spacingAndGlyphs">3,679</text><path d="M1707,71H1770A2,2 0 0 1 1772,73V96A2,2 0 0 1 1770,98H1707Z" fill="#089981"/><text x="1719.3" y="90.0" font-family="'Liberation Sans', sans-serif" font-size="17.5" fill="#fff" stroke="#fff" stroke-width="0.55" textLength="43.6" lengthAdjust="spacingAndGlyphs">4,928</text>
<clipPath id="tclip"><rect x="16" y="582" width="1691" height="41"/></clipPath>
<g font-family="'Liberation Sans', sans-serif" font-size="17" fill="#131722" stroke="#131722" stroke-width="0.35" clip-path="url(#tclip)"><text x="11.2" y="609.7" textLength="22.5" lengthAdjust="spacingAndGlyphs">Jul</text><text x="194.7" y="609.7" textLength="27.8" lengthAdjust="spacingAndGlyphs">Sep</text><text x="406.0" y="609.7" textLength="30" lengthAdjust="spacingAndGlyphs">Nov</text><text x="628.0" y="609.7" textLength="40.8" lengthAdjust="spacingAndGlyphs" font-weight="bold">2025</text><text x="804.1" y="609.7" textLength="29" lengthAdjust="spacingAndGlyphs">Mar</text><text x="1000.1" y="609.7" textLength="31" lengthAdjust="spacingAndGlyphs">May</text><text x="1159.2" y="609.7" textLength="22.5" lengthAdjust="spacingAndGlyphs">Jul</text><text x="1353.0" y="609.7" textLength="27.8" lengthAdjust="spacingAndGlyphs">Sep</text><text x="1528.0" y="609.7" textLength="29.6" lengthAdjust="spacingAndGlyphs">Nov</text><text x="1673.1" y="609.7" textLength="40.8" lengthAdjust="spacingAndGlyphs" font-weight="bold">2026</text></g>
<g font-family="'Liberation Sans', sans-serif" font-size="16.5" stroke-width="0.35"><text x="26.4" y="43.3" fill="#131722" stroke="#131722">1</text><text x="42.4" y="43.3" fill="#131722" stroke="#131722">,</text><text x="215.2" y="43.3" fill="#131722" stroke="#131722">D</text><text x="227.8" y="43.3" fill="#131722" stroke="#131722">,</text><text x="284.2" y="43.3" fill="#131722" stroke="#131722" textLength="12.3" lengthAdjust="spacingAndGlyphs">O</text><text x="297.5" y="43.3" fill="#089981" stroke="#089981" textLength="44.0" lengthAdjust="spacingAndGlyphs">4,835</text><text x="352.0" y="43.3" fill="#131722" stroke="#131722" textLength="11.7" lengthAdjust="spacingAndGlyphs">H</text><text x="363.6" y="43.3" fill="#089981" stroke="#089981" textLength="44.5" lengthAdjust="spacingAndGlyphs">4,928</text><text x="419.4" y="43.3" fill="#131722" stroke="#131722" textLength="9.3" lengthAdjust="spacingAndGlyphs">L</text><text x="428.6" y="43.3" fill="#089981" stroke="#089981" textLength="44.0" lengthAdjust="spacingAndGlyphs">4,835</text><text x="483.1" y="43.3" fill="#131722" stroke="#131722" textLength="10.6" lengthAdjust="spacingAndGlyphs">C</text><text x="493.6" y="43.3" fill="#089981" stroke="#089981" textLength="44.9" lengthAdjust="spacingAndGlyphs">4,928</text><text x="549.4" y="43.3" fill="#089981" stroke="#089981" textLength="37.5" lengthAdjust="spacingAndGlyphs">+116</text><text x="592.8" y="43.3" fill="#089981" stroke="#089981" textLength="68.3" lengthAdjust="spacingAndGlyphs">(+2.41%)</text></g><text x="132.3" y="41.3" font-family="'Liberation Sans', 'DejaVu Sans', sans-serif" font-size="16.5" fill="#131722" text-anchor="middle" textLength="164.5" lengthAdjust="spacingAndGlyphs">شبندر-پالایش نفت بندرعباس</text><text x="256.8" y="41.3" font-family="'Liberation Sans', 'DejaVu Sans', sans-serif" font-size="16.5" fill="#131722" text-anchor="middle" textLength="32.8" lengthAdjust="spacingAndGlyphs">بورس</text>
<g fill="#131722"><path d="M14.9 642.2H26.9V656.9H20.7V648H14.9Z"/><circle cx="31.3" cy="645.3" r="3.1"/><path d="M37.1 642.2H44.2L38.4 656.9H31.8Z"/></g>
<text x="49.6" y="657.8" font-family="'Liberation Sans', sans-serif" font-size="19.2" fill="#131722" stroke="#131722" stroke-width="0.4" textLength="105.7" lengthAdjust="spacingAndGlyphs">TradingView</text>
</svg>
</body></html>
